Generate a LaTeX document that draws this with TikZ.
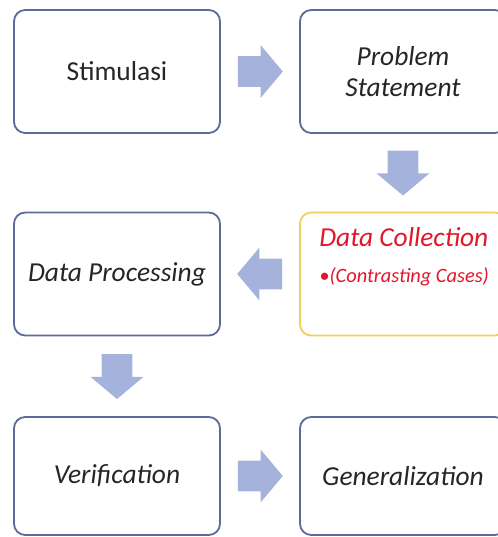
\documentclass[tikz,border=0pt]{standalone}
\usepackage{fontspec}
\setmainfont{Carlito}
\usetikzlibrary{shapes.arrows,calc}
\definecolor{boxline}{HTML}{5B6B9A}
\definecolor{gold}{HTML}{F2CF5B}
\definecolor{arrowfill}{HTML}{A5B2DB}
\definecolor{redtext}{HTML}{E3172B}
\definecolor{darktext}{HTML}{262626}

\begin{document}
\begin{tikzpicture}[
    stepbox/.style={draw=boxline, fill=white, rounded corners=8pt,
                    minimum width=5.15cm, minimum height=3.075cm, align=center,
                    font=\fontsize{19.5}{21.5}\selectfont, text=darktext, line width=1.3pt},
    blockarrow/.style={single arrow, fill=arrowfill, draw=none, anchor=tail,
                       inner xsep=0pt, inner ysep=0.375cm, minimum height=1.125cm,
                       single arrow head extend=0.275cm, single arrow tip angle=100},
]
\clip (0,0) rectangle (12.45,-13.425);

% Baris 1
\node[stepbox] (stim) at (2.925, -1.7875) {Stimulasi};
\node[stepbox] (prob) at (10.075, -1.7875) {\textit{Problem}\\\textit{Statement}};

% Baris 2
\node[stepbox] (dproc) at (2.925, -6.85) {\textit{Data Processing}};
\node[stepbox, draw=gold] (dcol) at (10.075, -6.85) {};
\node[anchor=north west, inner sep=0pt, align=left, text=redtext,
      font=\fontsize{19.5}{25}\selectfont] (dcoltxt) at ([shift={(0.5,-0.4)}]dcol.north west) {
    \textit{Data Collection}\\
    {\fontsize{14.5}{17}\selectfont\textit{\textbullet(Contrasting Cases)}}
};

% Baris 3
\node[stepbox, minimum height=2.95cm] (verif) at (2.925, -11.9) {\textit{Verification}};
\node[stepbox, minimum height=2.95cm] (gen) at (10.075, -11.9) {\textit{Generalization}};

% Panah
\node[blockarrow] (a1) at ($(stim.east)!0.5!(prob.west)+(-0.5625,0)$) {};
\node[blockarrow, rotate=-90] (a2) at ($(prob.south)!0.5!(dcol.north)+(0,0.5625)$) {};
\node[blockarrow, rotate=180] (a3) at ($(dcol.west)!0.5!(dproc.east)+(0.5625,0)$) {};
\node[blockarrow, rotate=-90] (a4) at ($(dproc.south)!0.5!(verif.north)+(0,0.5625)$) {};
\node[blockarrow] (a5) at ($(verif.east)!0.5!(gen.west)+(-0.5625,0)$) {};

\end{tikzpicture}
\end{document}
